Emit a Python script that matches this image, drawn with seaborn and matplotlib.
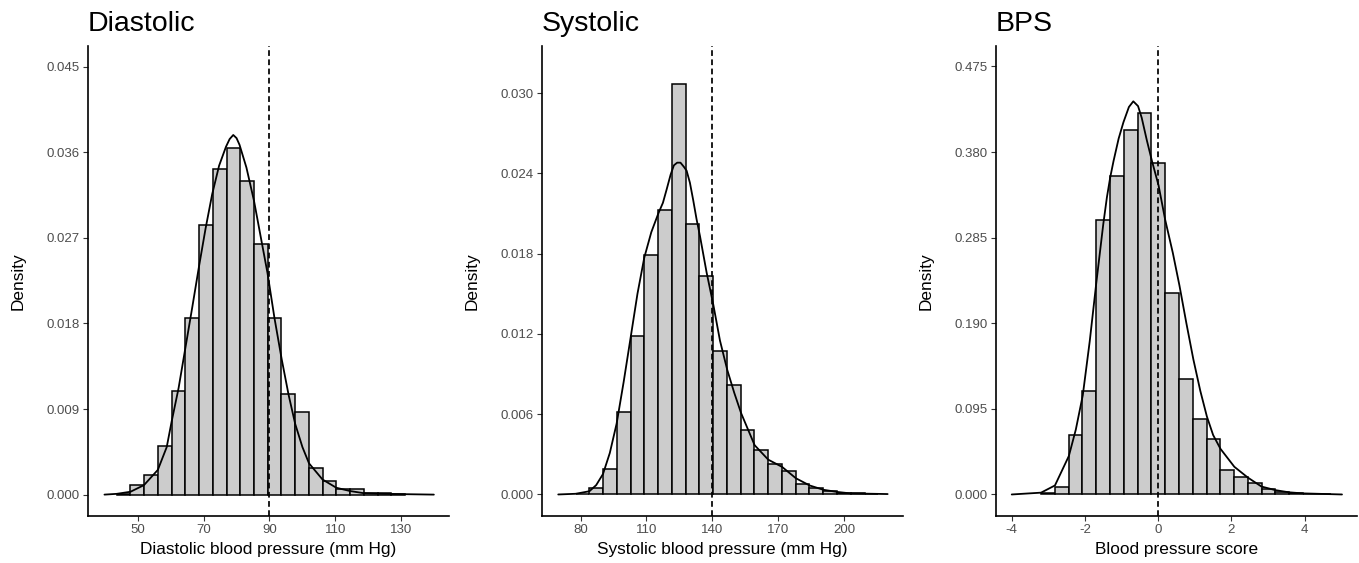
import numpy as np
import pandas as pd
import matplotlib
matplotlib.use("Agg")
import matplotlib.pyplot as plt
import seaborn as sns

# histogram bars (density per bin)
dia_start, dia_width = 43.6, 4.17
dia_heights = [0.0001, 0.00102, 0.00204, 0.0051, 0.01088, 0.01855, 0.02838,
               0.03423, 0.03642, 0.03302, 0.02634, 0.01859, 0.01058, 0.00873,
               0.00276, 0.00147, 0.00057, 0.00057, 0.00019, 0.00019, 0.00005]
dia_curve_x = [39.9, 43.6, 47.8, 51.9, 56.1, 58.8, 60.3, 62.4, 64.5, 66.6, 68.6,
               70.6, 72.6, 74.7, 76.8, 77.9, 79.0, 80.0, 80.9, 83.0, 85.3, 87.4,
               89.4, 91.5, 93.7, 95.8, 97.8, 100.0, 102.0, 106.1, 110.3, 114.4,
               118.6, 124.5, 139.9]
dia_curve_y = [0.0, 0.00008, 0.0003, 0.0010, 0.0026, 0.0050, 0.0077, 0.0112,
               0.0155, 0.0198, 0.0240, 0.0280, 0.0316, 0.0346, 0.0366, 0.0374,
               0.03783, 0.0375, 0.0368, 0.0344, 0.0309, 0.0270, 0.0233, 0.0186,
               0.01425, 0.0105, 0.00744, 0.0050, 0.00329, 0.00159, 0.00072,
               0.00038, 0.00015, 0.00008, 0.0]

sys_start, sys_width = 77.7, 6.27
sys_heights = [0.00003, 0.00051, 0.00188, 0.00615, 0.01187, 0.01788, 0.02124,
               0.03070, 0.02022, 0.01635, 0.01074, 0.00816, 0.00483, 0.00333,
               0.00228, 0.00174, 0.00080, 0.00046, 0.00024, 0.00013, 0.00008, 0.00005]
sys_curve_x = [69.8, 77.7, 84.0, 87.1, 90.2, 93.3, 96.4, 99.6, 102.8, 105.9, 109.0,
               112.2, 115.4, 117.5, 119.2, 121.0, 122.5, 124.0, 125.5, 127.0, 128.3,
               129.8, 131.3, 132.8, 134.4, 137.4, 140.5, 143.5, 146.8, 150.0, 153.1,
               159.3, 165.5, 171.8, 178.1, 184.4, 190.6, 196.8, 203.0, 219.9]
sys_curve_y = [0.0, 0.00005, 0.00024, 0.0007, 0.00153, 0.0031, 0.00529, 0.0084,
               0.01174, 0.0150, 0.0177, 0.0196, 0.0210, 0.0218, 0.0228, 0.0239,
               0.0246, 0.0248, 0.0248, 0.0245, 0.0242, 0.0233, 0.0220, 0.0206,
               0.0193, 0.0166, 0.01415, 0.0115, 0.00932, 0.0076, 0.00609, 0.00368,
               0.00260, 0.00206, 0.00121, 0.00067, 0.00035, 0.00019, 0.00008, 0.00003]

bps_start, bps_width = -3.198, 0.3765
bps_heights = [0.0016, 0.008, 0.0662, 0.1145, 0.3047, 0.3535, 0.4049, 0.4232,
               0.3674, 0.2241, 0.1276, 0.0842, 0.061, 0.0275, 0.0195, 0.0128,
               0.006, 0.0028, 0.0012, 0.0008, 0.0004]
bps_curve_x = [-4.0, -3.2, -2.82, -2.44, -2.25, -2.06, -1.87, -1.69, -1.50, -1.40,
               -1.31, -1.22, -1.08, -0.95, -0.80, -0.68, -0.55, -0.45, -0.31, -0.17,
               0.01, 0.19, 0.40, 0.58, 0.77, 0.96, 1.15, 1.33, 1.50, 1.70, 2.08,
               2.45, 2.82, 3.20, 3.57, 3.95, 5.02]
bps_curve_y = [0.0, 0.002, 0.010, 0.0427, 0.072, 0.110, 0.170, 0.235, 0.300, 0.330,
               0.352, 0.370, 0.395, 0.413, 0.430, 0.4363, 0.431, 0.418, 0.393, 0.370,
               0.343, 0.305, 0.268, 0.232, 0.190, 0.150, 0.115, 0.0865, 0.066,
               0.0507, 0.0307, 0.0187, 0.0088, 0.0048, 0.0024, 0.0012, 0.0]

titles = ["Diastolic", "Systolic", "BPS"]
xlabels = ["Diastolic blood pressure (mm Hg)", "Systolic blood pressure (mm Hg)",
           "Blood pressure score"]
cutoffs = [90, 140, 0]
xticks = [[50, 70, 90, 110, 130], [80, 110, 140, 170, 200], [-4, -2, 0, 2, 4]]
yticks = [[0, 0.009, 0.018, 0.027, 0.036, 0.045],
          [0, 0.006, 0.012, 0.018, 0.024, 0.030],
          [0, 0.095, 0.190, 0.285, 0.380, 0.475]]
xlims = [(34.9, 144.5), (62.4, 226.9), (-4.43, 5.43)]
ylims = [(-0.00225, 0.04719), (-0.00161, 0.03352), (-0.0239, 0.4977)]

panels = [
    (dia_start, dia_width, dia_heights, dia_curve_x, dia_curve_y),
    (sys_start, sys_width, sys_heights, sys_curve_x, sys_curve_y),
    (bps_start, bps_width, bps_heights, bps_curve_x, bps_curve_y),
]

sns.set_style("ticks")
plt.rcParams['font.family'] = ['Liberation Sans', 'DejaVu Sans']
plt.rcParams['axes.unicode_minus'] = False
plt.rcParams['text.color'] = 'black'
plt.rcParams['axes.labelcolor'] = 'black'

fig = plt.figure(figsize=(13.59, 5.63), dpi=100)
lefts = [88 / 1359, 542 / 1359, 996 / 1359]
width = 361 / 1359
bottom = 47 / 563
height = 470 / 563

for i, (start, bw, heights, cx, cy) in enumerate(panels):
    ax = fig.add_axes([lefts[i], bottom, width, height])
    n = len(heights)
    # one point per bin, weighted by its read height
    bins_df = pd.DataFrame({
        "x": start + bw * (np.arange(n) + 0.5),
        "w": heights,
    })
    sns.histplot(data=bins_df, x="x", weights="w", binwidth=bw,
                 binrange=(start, start + bw * n), stat="count",
                 color="#CCCCCC", edgecolor="black", linewidth=1.1, alpha=1, ax=ax)
    sns.lineplot(x=cx, y=cy, color="black", linewidth=1.3, ax=ax, sort=False)
    ax.axvline(cutoffs[i], color="black", linewidth=1.25, linestyle=(0, (3.3, 2.0)))

    ax.set_xlim(*xlims[i])
    ax.set_ylim(*ylims[i])
    ax.set_xticks(xticks[i])
    ax.set_xticklabels([str(t) for t in xticks[i]])
    ax.set_yticks(yticks[i])
    ax.set_yticklabels([f"{t:.3f}" for t in yticks[i]])
    ax.tick_params(axis="both", labelsize=9.5, labelcolor="#4D4D4D", color="#333333",
                   length=3.5, width=0.8, pad=2.5)
    ax.set_xlabel(xlabels[i], fontsize=12.4, labelpad=4)
    ax.set_ylabel("Density", fontsize=12.4, labelpad=15)
    ax.set_title(titles[i], loc="left", fontsize=20.5, pad=11)
    for s in ["left", "bottom"]:
        ax.spines[s].set_linewidth(1.2)
        ax.spines[s].set_color("black")
    sns.despine(ax=ax)

fig.savefig("out.png", dpi=100)
